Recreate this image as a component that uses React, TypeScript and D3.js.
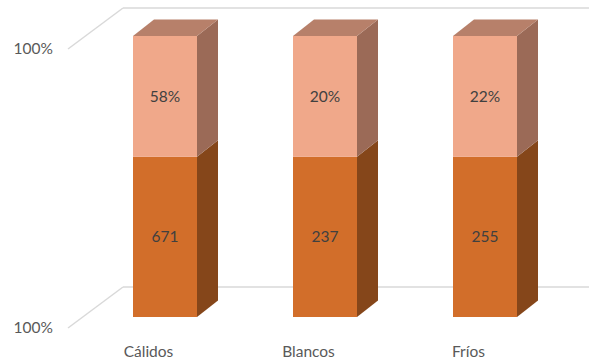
import React from "react";
import * as d3 from "d3";

const categories = ["Cálidos", "Blancos", "Fríos"];
const bottomShare = [0.57, 0.57, 0.57];
const topShare = [0.43, 0.43, 0.43];
const bottomLabels = ["671", "237", "255"];
const topLabels = ["58%", "20%", "22%"];
const axisTickLabels = ["100%", "100%"];

const W = 589;
const H = 362;

export default function App() {
  const x = d3.scaleBand<string>().domain(categories).range([85, 565]).paddingInner(0.6).paddingOuter(0.3);
  const yBar = d3.scaleLinear().domain([0, 1]).range([317, 36]);
  const yAxis = d3.scaleLinear().domain([0, 1]).range([328, 49]);
  const bdx = 21, bdy = -16.5;
  const wallDx = 55, wallDy = -41;
  const axisX = 68;
  const font = "Lato, 'Open Sans', sans-serif";
  const textColor = "#595959";
  const grid = "#D9D9D9";
  const fs = 15.5;

  const segs = [
    { share: bottomShare, labels: bottomLabels, front: "#D26E2A", side: "#85461A", top: "#A85A22" },
    { share: topShare, labels: topLabels, front: "#F0A88A", side: "#9B6A57", top: "#B7806A" },
  ];

  return (
    <div style={{ position: "absolute", left: 0, top: 0 }}>
      <svg width={W} height={H} style={{ display: "block", background: "#fff" }}>
        {[0, 1].map((v) => {
          const y0 = yAxis(v);
          return (
            <g key={v}>
              <line x1={axisX} y1={y0} x2={axisX + wallDx} y2={y0 + wallDy} stroke={grid} strokeWidth={1.5} />
              <line x1={axisX + wallDx} y1={y0 + wallDy} x2={W} y2={y0 + wallDy} stroke={grid} strokeWidth={1.5} />
            </g>
          );
        })}
        {[0, 1].map((v, i) => (
          <text key={i} x={53} y={yAxis(v)} dy="0.35em" textAnchor="end" fontFamily={font} fontSize={fs} fill={textColor}>
            {axisTickLabels[i]}
          </text>
        ))}
        {categories.map((c, i) => {
          const x0 = x(c)!;
          const bw = x.bandwidth();
          let cum = 0;
          const parts = segs.map((s, k) => {
            const lo = cum;
            const hi = cum + s.share[i];
            cum = hi;
            const yLo = yBar(lo);
            const yHi = yBar(hi);
            const isTop = k === segs.length - 1;
            return (
              <g key={k}>
                <rect x={x0} y={yHi} width={bw} height={yLo - yHi} fill={s.front} />
                <polygon
                  points={`${x0 + bw},${yLo} ${x0 + bw + bdx},${yLo + bdy} ${x0 + bw + bdx},${yHi + bdy} ${x0 + bw},${yHi}`}
                  fill={s.side}
                />
                {isTop && (
                  <polygon
                    points={`${x0},${yHi} ${x0 + bw},${yHi} ${x0 + bw + bdx},${yHi + bdy} ${x0 + bdx},${yHi + bdy}`}
                    fill={s.top}
                  />
                )}
                <text x={x0 + bw / 2} y={(yLo + yHi) / 2} dy="0.35em" textAnchor="middle" fontFamily={font} fontSize={fs} fill="#404040">
                  {s.labels[i]}
                </text>
              </g>
            );
          });
          return <g key={c}>{parts}</g>;
        })}
        {categories.map((c) => (
          <text key={c} x={x(c)! + x.bandwidth() / 2 - 16.5} y={352} dy="0.35em" textAnchor="middle" fontFamily={font} fontSize={fs} fill={textColor}>
            {c}
          </text>
        ))}
      </svg>
    </div>
  );
}
